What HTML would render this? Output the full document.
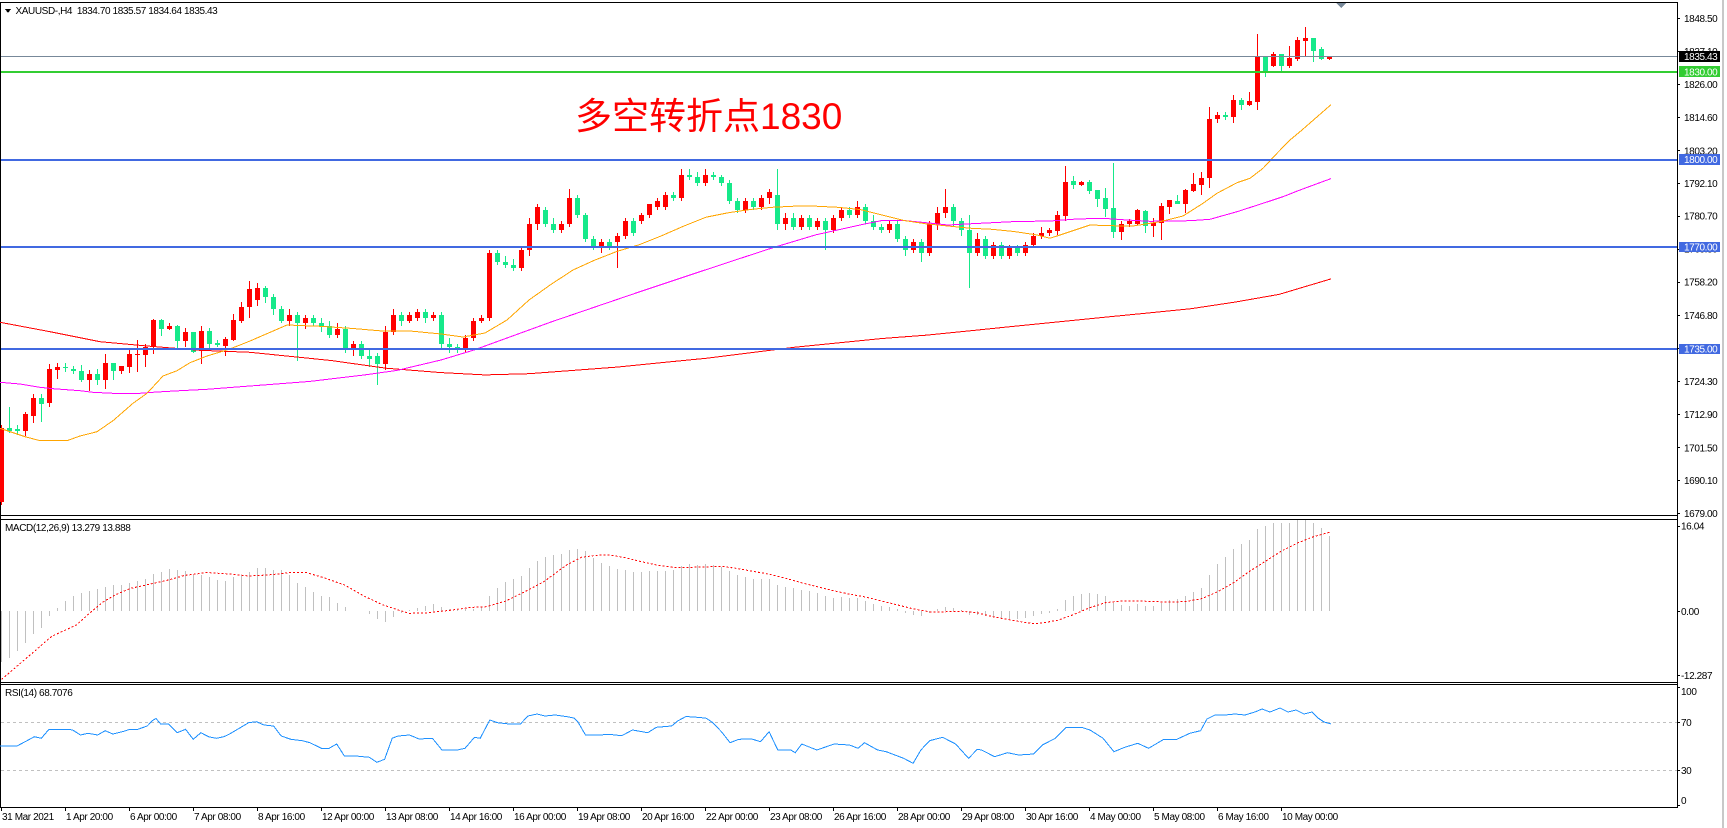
<!DOCTYPE html>
<html><head><meta charset="utf-8"><title>XAUUSD H4</title>
<style>
html,body{margin:0;padding:0;background:#fff}
body{width:1727px;height:828px;overflow:hidden;position:relative}
#s{position:absolute;left:0;top:0}
#s text{font-family:"Liberation Sans",Arial,sans-serif;font-size:10px;letter-spacing:-0.4px;fill:#000}
#s text.w{fill:#fff}
.cn{position:absolute;left:575px;top:98px;font-family:"Liberation Sans","Noto Sans CJK SC",sans-serif;font-size:37px;line-height:37px;color:#f00;white-space:nowrap}
</style></head><body>
<svg id="s" width="1727" height="828" viewBox="0 0 1727 828" shape-rendering="crispEdges">
<rect x="1722" y="0" width="2" height="828" fill="#c8c8c8"/>
<rect x="0" y="2" width="1678" height="1" fill="#000"/>
<rect x="0" y="515" width="1678" height="1" fill="#000"/>
<rect x="0" y="519" width="1678" height="1" fill="#000"/>
<rect x="0" y="682" width="1678" height="1" fill="#000"/>
<rect x="0" y="684" width="1678" height="1" fill="#000"/>
<rect x="0" y="807" width="1678" height="1" fill="#000"/>
<rect x="0" y="2" width="1" height="806" fill="#000"/>
<rect x="1677" y="2" width="1" height="806" fill="#000"/>
<line x1="1" y1="722.5" x2="1677" y2="722.5" stroke="#c0c0c0" stroke-dasharray="3,3"/>
<line x1="1" y1="770.5" x2="1677" y2="770.5" stroke="#c0c0c0" stroke-dasharray="3,3"/>
<g id="cd"></g>
<g id="ind"></g>
<rect x="1" y="56" width="1676" height="1" fill="#778899"/>
<rect x="1" y="71" width="1676" height="2" fill="#32cd32"/>
<rect x="1" y="159" width="1676" height="2" fill="#4169e1"/>
<rect x="1" y="246" width="1676" height="2" fill="#4169e1"/>
<rect x="1" y="348" width="1676" height="2" fill="#4169e1"/>
<polygon points="1336,3 1346,3 1341,8" fill="#778899"/>
<polygon points="5,9 11,9 8,13" fill="#000"/>
<text x="15.5" y="14">XAUUSD-,H4&#160; 1834.70 1835.57 1834.64 1835.43</text>
<text x="5" y="531">MACD(12,26,9) 13.279 13.888</text>
<text x="5" y="696">RSI(14) 68.7076</text>
<g fill="#000">
<rect x="1677" y="18" width="3" height="1"/><rect x="1677" y="51" width="3" height="1"/><rect x="1677" y="84" width="3" height="1"/><rect x="1677" y="117" width="3" height="1"/><rect x="1677" y="150" width="3" height="1"/><rect x="1677" y="183" width="3" height="1"/><rect x="1677" y="216" width="3" height="1"/><rect x="1677" y="249" width="3" height="1"/><rect x="1677" y="282" width="3" height="1"/><rect x="1677" y="315" width="3" height="1"/><rect x="1677" y="348" width="3" height="1"/><rect x="1677" y="381" width="3" height="1"/><rect x="1677" y="414" width="3" height="1"/><rect x="1677" y="447" width="3" height="1"/><rect x="1677" y="480" width="3" height="1"/><rect x="1677" y="513" width="3" height="1"/>
<rect x="1677" y="526" width="3" height="1"/><rect x="1677" y="611" width="3" height="1"/><rect x="1677" y="675" width="3" height="1"/>
<rect x="1677" y="687" width="3" height="1"/><rect x="1677" y="722" width="3" height="1"/><rect x="1677" y="770" width="3" height="1"/><rect x="1677" y="805" width="3" height="1"/>
</g>
<text x="1684" y="22">1848.50</text>
<text x="1684" y="55.2">1837.10</text>
<text x="1684" y="87.9">1826.00</text>
<text x="1684" y="120.9">1814.60</text>
<text x="1684" y="154.3">1803.20</text>
<text x="1684" y="186.9">1792.10</text>
<text x="1684" y="219.6">1780.70</text>
<text x="1684" y="252.6">1769.30</text>
<text x="1684" y="285.6">1758.20</text>
<text x="1684" y="318.9">1746.80</text>
<text x="1684" y="352">1735.40</text>
<text x="1684" y="384.9">1724.30</text>
<text x="1684" y="417.9">1712.90</text>
<text x="1684" y="451.3">1701.50</text>
<text x="1684" y="483.9">1690.10</text>
<text x="1684" y="516.9">1679.00</text>
<rect x="1679" y="51" width="41" height="11" fill="#000"/><text class="w" x="1684" y="60.1">1835.43</text>
<rect x="1679" y="66" width="41" height="11" fill="#32cd32"/><text class="w" x="1684" y="75.3">1830.00</text>
<rect x="1679" y="154" width="41" height="11" fill="#4169e1"/><text class="w" x="1684" y="163.1">1800.00</text>
<rect x="1679" y="242" width="41" height="10" fill="#4169e1"/><text class="w" x="1684" y="250.3">1770.00</text>
<rect x="1679" y="344" width="41" height="10" fill="#4169e1"/><text class="w" x="1684" y="352.4">1735.00</text>
<text x="1681" y="529.3">16.04</text>
<text x="1681" y="614.9">0.00</text>
<text x="1681" y="678.9">-12.287</text>
<text x="1681" y="694.9">100</text>
<text x="1681" y="725.9">70</text>
<text x="1681" y="773.9">30</text>
<text x="1681" y="803.9">0</text>
<g fill="#000">
<rect x="1" y="807" width="1" height="4"/><rect x="65" y="807" width="1" height="4"/><rect x="129" y="807" width="1" height="4"/><rect x="193" y="807" width="1" height="4"/><rect x="257" y="807" width="1" height="4"/><rect x="321" y="807" width="1" height="4"/><rect x="385" y="807" width="1" height="4"/><rect x="449" y="807" width="1" height="4"/><rect x="513" y="807" width="1" height="4"/><rect x="577" y="807" width="1" height="4"/><rect x="641" y="807" width="1" height="4"/><rect x="705" y="807" width="1" height="4"/><rect x="769" y="807" width="1" height="4"/><rect x="833" y="807" width="1" height="4"/><rect x="897" y="807" width="1" height="4"/><rect x="961" y="807" width="1" height="4"/><rect x="1025" y="807" width="1" height="4"/><rect x="1089" y="807" width="1" height="4"/><rect x="1153" y="807" width="1" height="4"/><rect x="1217" y="807" width="1" height="4"/><rect x="1281" y="807" width="1" height="4"/>
</g>
<text x="2" y="820">31 Mar 2021</text>
<text x="66" y="820">1 Apr 20:00</text>
<text x="130" y="820">6 Apr 00:00</text>
<text x="194" y="820">7 Apr 08:00</text>
<text x="258" y="820">8 Apr 16:00</text>
<text x="322" y="820">12 Apr 00:00</text>
<text x="386" y="820">13 Apr 08:00</text>
<text x="450" y="820">14 Apr 16:00</text>
<text x="514" y="820">16 Apr 00:00</text>
<text x="578" y="820">19 Apr 08:00</text>
<text x="642" y="820">20 Apr 16:00</text>
<text x="706" y="820">22 Apr 00:00</text>
<text x="770" y="820">23 Apr 08:00</text>
<text x="834" y="820">26 Apr 16:00</text>
<text x="898" y="820">28 Apr 00:00</text>
<text x="962" y="820">29 Apr 08:00</text>
<text x="1026" y="820">30 Apr 16:00</text>
<text x="1090" y="820">4 May 00:00</text>
<text x="1154" y="820">5 May 08:00</text>
<text x="1218" y="820">6 May 16:00</text>
<text x="1282" y="820">10 May 00:00</text>
</svg>
<div class="cn">多空转折点1830</div>
<script>
(function(){
var NS="http://www.w3.org/2000/svg";
var cd=document.getElementById('cd'), ind=document.getElementById('ind');
function mk(p,t,a){var e=document.createElementNS(NS,t);for(var k in a)e.setAttribute(k,a[k]);p.appendChild(e);return e;}
function Y(p){return 18.3+(1848.5-p)*2.9204;}
var A=[[502,425,505,428],[427.7,406.7,433.3,431],[428.7,425,435,430.7],[431,412.3,435.7,414],[415.7,394.3,422.7,397.7],[398,394,421.7,403.7],[403,364,406.7,369],[369.7,363.3,379,367],[367.3,363.3,371.7,368.3],[368.7,366,374,370.7],[371,365,381.7,380],[380,370,391,374],[374,369,385,380],[379.7,354,389,363],[363,363,380,371],[371,366,374,366],[366.7,349.3,372.7,354],[354.7,340,372,353.7],[354.7,344,366.7,346.7],[346.7,319,354,320],[320,319,335.7,328.7],[329,323,330,326],[326,325,348.3,340.7],[340.7,328.3,346.7,332],[332,332,353.3,351.7],[351,326,363.7,331],[331,328.3,350,343.7],[343,340,346.7,344.7],[346,336.7,356,339],[340,314,341,320],[321,302.3,322.7,307],[307.3,281,318.3,289]];
var B=[[1752,1758,1750,1756],[1756,1757,1751,1753],[1753,1754,1747,1749],[1749,1750,1744,1745],[1745,1749,1743,1747],[1747,1748,1731,1744],[1744,1747,1742,1746],[1746,1747,1743,1744],[1744,1746,1741,1743],[1743,1745,1739,1740],
[1740,1744,1739,1742],[1742,1743,1734,1735],[1735,1738,1733,1737],[1737,1738,1732,1733],[1733,1735,1729,1732],[1733,1734,1723,1730],[1730,1743,1728,1741],[1741,1749,1740,1747],[1747,1748,1743,1745],[1745,1748,1744,1747],
[1746,1749,1745,1748],[1748,1749,1744,1746],[1746,1748,1745,1747],[1747,1748,1735,1737],[1737,1739,1734,1736],[1736,1737,1734,1735],[1735,1740,1734,1739],[1739,1746,1738,1745],[1745,1747,1744,1746],[1746,1769,1745,1768],
[1768,1769,1764,1765],[1765,1767,1763,1764],[1764,1766,1762,1763],[1763,1770,1762,1769],[1769,1780,1767,1778],[1778,1785,1776,1784],[1783,1784,1777,1778],[1778,1780,1775,1776],[1776,1779,1775,1778],[1778,1790,1777,1787],
[1787,1788,1780,1781],[1781,1782,1772,1773],[1773,1774,1769,1770],[1770,1773,1768,1772],[1772,1773,1769,1770],[1772,1775,1763,1774],[1774,1780,1773,1779],[1779,1780,1774,1775],[1779,1782,1778,1781],[1781,1785,1780,1785],
[1784,1787,1783,1786],[1784,1789,1783,1788],[1788,1789,1786,1787],[1787,1797,1786,1795],[1795,1797,1793,1794],[1794,1796,1791,1792],[1792,1797,1791,1795],[1795,1796,1793,1794],[1794,1795,1791,1792],[1792,1793,1785,1786],
[1786,1787,1782,1783],[1783,1787,1782,1786],[1786,1787,1783,1784],[1784,1788,1783,1787],[1787,1790,1785,1789],[1788,1797,1776,1778],[1778,1782,1776,1780],[1780,1782,1776,1777],[1777,1781,1776,1780],[1780,1781,1776,1777],
[1777,1780,1776,1779],[1779,1780,1769,1776],[1776,1781,1775,1780],[1780,1784,1779,1783],[1783,1784,1780,1781],[1781,1786,1780,1784],[1784,1785,1778,1779],[1779,1781,1776,1777],[1777,1778,1775,1776],[1776,1779,1775,1778],
[1778,1779,1772,1773],[1773,1774,1767,1769],[1769,1773,1768,1772],[1772,1773,1765,1768],[1768,1779,1767,1778],[1778,1784,1776,1782],[1782,1790,1780,1784],[1784,1785,1777,1779],[1779,1780,1774,1776],[1776,1781,1756,1768],
[1768,1775,1767,1773],[1773,1774,1766,1767],[1767,1772,1766,1771],[1771,1772,1766,1767],[1767,1771,1766,1770],[1770,1771,1767,1768],[1768,1772,1767,1771],[1771,1775,1770,1774],[1774,1777,1773,1775]];
var C=[[233.3,228,236,230],[230.7,211,235,215],[216,165.7,220.7,181.7],[181,176,189,185],[185,181,185.7,182],[181.7,180,194,190.7],[190,190,207.3,199],[198.3,188.3,216.7,209],[208,163,238.3,231.7],[231.7,220.7,240,224],
[224.3,219,226.7,221.3],[224,209,225,210],[210.7,210,233.3,225.7],[225.7,218.3,236.7,222.7],[223.3,203.3,240,206],[206.7,200,214.3,200],[201,195,204,204],[204,189,213.3,190],[191,173,192,183.7],[185,172,195,177.7],
[177.7,107.3,188.3,119],[118.7,112.3,122.7,115],[115,112.3,120,117.3],[117.3,95,122.7,100],[100,97.7,110,105],[105,91.7,106,101],[101.7,34,110,57],[57.3,57,76.7,71.7],[65.7,51.7,66.7,54],[54,54,71,65.7],
[65.7,46,67.7,58.3],[59,37,61,40],[40.7,27,56.7,38.3],[38,38,61.7,50.7],[49.3,47,60,59],[59,56,60,56.5]];
var cs=A.slice();
B.forEach(function(r){cs.push([Y(r[0]),Y(r[1]),Y(r[2]),Y(r[3])]);});
C.forEach(function(r){cs.push(r);});
cs.forEach(function(r,k){
 var o=r[0],h=r[1],l=r[2],c=r[3];
 var col=c<=o?'#ff0000':'#16e98a';
 var x=8*k+1;
 var ht=Math.round(h), lb=Math.round(l);
 mk(cd,'rect',{x:x,y:ht,width:1,height:Math.max(1,lb-ht),fill:col});
 var t=Math.round(Math.min(o,c)), b=Math.round(Math.max(o,c));
 mk(cd,'rect',{x:x-2,y:t,width:5,height:Math.max(1,b-t),fill:col});
});
function pl(pts,col,extra){var s=pts.map(function(p){return p[0]+','+p[1];}).join(' ');var a={points:s,fill:'none',stroke:col,'stroke-width':1};if(extra)for(var k in extra)a[k]=extra[k];mk(ind,'polyline',a);}
var RED=[[0,322.3],[50,331.7],[100,341.7],[147,346],[200,350.3],[250,352.3],[331,360.5],[386,368.2],[441,372.6],[485,374.9],[529,373.7],[573,370.4],[617,367.1],[661,362.7],[706,358.3],[750,352.8],[794,347.3],[838,342.9],[882,338.5],[926,335.2],[970,330.8],[1014,326.3],[1058,321.9],[1102,317.5],[1147,313.1],[1191,308.7],[1235,302.1],[1279,294.4],[1331,278.9]];
var MAG=[[0,382.3],[20,384],[40,387.3],[53,388.7],[80,390.7],[93,392.3],[113,393.3],[140,393.3],[157,392],[180,390.7],[207,389.3],[233,387.3],[250,386],[309,381.5],[364,375],[397,370.4],[441,360],[474,350],[507,338],[551,322],[595,307],[639,292],[684,277],[728,262.4],[772,248],[816,234.8],[860,225],[882,220.5],[904,220.5],[926,222.7],[948,225],[970,223.8],[992,222.7],[1014,221.6],[1050,221],[1077,219],[1103,218.3],[1127,220],[1150,221.3],[1190,220.7],[1210,219.3],[1237,211.7],[1263,203.3],[1283,196.7],[1300,190],[1331,178.6]];
var ORG=[[0,428.3],[13,432.7],[25,436.7],[40,440.7],[67,440.7],[80,436],[97,431.7],[113,420.7],[133,403.3],[147,393.3],[163,376],[177,370.7],[190,362.7],[207,356],[227,350],[240,345],[250,341],[287,325],[320,326.3],[353,328.5],[380,330.8],[408,330.8],[441,334],[463,337],[485,333],[507,320],[529,300],[551,284.4],[573,270],[595,260],[617,251.4],[639,244.8],[661,236],[684,226],[706,217.2],[728,212.8],[750,209.5],[772,207.3],[794,206.2],[816,206.2],[838,207.3],[860,209.5],[882,215],[904,220.5],[926,223.8],[948,226],[970,228.2],[992,229.3],[1014,231.5],[1036,234.8],[1050,238.3],[1070,231.7],[1090,225],[1110,225.7],[1133,226],[1160,221.7],[1183,216],[1203,203.3],[1217,193.3],[1237,182.7],[1250,178.3],[1263,168.3],[1277,153.3],[1290,140],[1300,131.7],[1331,104.7]];
pl(RED,'#ff0000');pl(MAG,'#ff00ff');pl(ORG,'#ffa500');
var H=[-9.0,-8.3,-7.0,-5.6,-4.07,-2.9,-0.8,0.6,1.8,2.67,
3.26,3.6,3.85,4.3,4.6,4.6,5.0,5.3,5.66,6.6,
6.95,7.42,7.25,7.13,6.43,6.43,6.07,5.49,5.37,6.07,
6.37,6.95,7.55,7.66,7.25,7.25,6.37,5.0,4.3,3.43,
2.67,2.55,1.38,0.69,0.05,-0.1,-0.55,-1.37,-1.84,-0.96,
-0.38,0.2,0.6,0.9,1.2,0.73,0.33,0.2,0.33,0.4,
0.8,2.67,4.0,5.08,5.66,6.19,7.66,8.9,9.48,9.88,
10.06,10.77,10.95,10.65,9.3,8.5,8.0,7.4,7.2,6.9,
6.9,7.0,7.1,7.1,7.3,8.0,8.3,8.2,8.3,8.1,
7.8,7.0,6.3,6.0,5.7,5.6,5.6,4.6,4.3,4.0,
3.8,3.5,3.2,2.6,2.4,2.5,2.3,2.3,1.8,1.3,
0.9,0.7,0.3,-0.3,-0.6,-0.9,-0.4,0.3,0.8,0.6,
0.2,-0.6,-0.6,-0.9,-1.0,-1.2,-1.3,-1.3,-1.2,-0.9,
-0.5,-0.3,0.4,2.0,2.7,3.1,3.2,3.0,2.6,1.4,
1.1,1.0,1.3,1.0,0.9,1.4,1.9,2.2,2.7,3.4,
4.0,6.3,8.3,9.6,11.0,11.8,12.5,14.5,15.0,15.6,
15.6,15.6,16.0,16.04,15.6,14.6,13.28];
var Z=611.2,S=5.684;
H.forEach(function(v,k){if(Math.abs(v*S)<0.6)return;var y1=Z-v*S;var t=Math.round(Math.min(Z,y1)),b=Math.round(Math.max(Z,y1));mk(ind,'rect',{x:8*k+1,y:t,width:1,height:Math.max(1,b-t),fill:'#c0c0c0'});});
var SIG=[[0,-12.0],[2.5,-9],[6.3,-4.4],[9.4,-2.4],[11,-0.35],[12.75,1.67],[14.2,2.85],[16.1,4.0],[19,4.9],[20.9,5.5],[22.8,6.27],[25.7,6.8],[28.5,6.55],[30.9,6.2],[33.3,6.37],[36.2,6.8],[38.1,6.8],[40.5,5.8],[42.9,4.6],[45.3,2.67],[47.7,1.09],[49.6,0.2],[51,-0.38],[53.4,-0.27],[56.3,0.2],[58.7,0.67],[60.6,0.79],[63,1.77],[65.8,3.7],[67.8,5.2],[70.6,8.1],[72.5,9.5],[74.8,9.9],[76,9.9],[78,9.4],[80,8.7],[82,8.1],[84,7.7],[86,7.7],[88,7.8],[90,7.9],[92,7.5],[94,7.0],[96,6.5],[98,5.8],[100,5.0],[102,4.3],[104,3.6],[106,3.0],[108,2.5],[110,1.8],[112,1.1],[114,0.4],[116,-0.1],[118,-0.1],[120,0.0],[122,-0.3],[124,-1.0],[126,-1.5],[128,-2.0],[129,-2.2],[130,-2.1],[132,-1.6],[134,-0.6],[136,0.6],[138,1.5],[140,1.8],[142,1.8],[144,1.7],[146,1.6],[148,1.7],[150,2.2],[152,3.4],[154,5.0],[156,7.0],[158,8.8],[160,10.6],[162,12.0],[164,13.1],[166,13.888]];
pl(SIG.map(function(p){return [8*p[0]+1.5,Z-p[1]*S];}),'#ff0000',{'stroke-dasharray':'2,2'});
var RSI=[[0,746],[17,746],[27,740.7],[34.4,736.7],[41.3,738.3],[49,729.3],[68,729.3],[72.7,730],[80.4,735],[88,733.3],[97.6,735],[105.2,730.7],[112.9,734],[122.4,731.7],[130.1,729.3],[137.8,729.3],[147.3,726],[152.3,720.7],[156,718.5],[160.7,724],[168.4,724],[177.2,732.7],[185.6,729.3],[193.2,739.3],[200.9,732.7],[208.5,736.7],[216.2,738.3],[223.9,736.7],[229.6,734],[239.2,728.3],[248.7,722.7],[256.4,721.7],[264,725],[273.6,726],[281.2,736],[290.8,739.3],[302.3,740.7],[309.9,742.7],[321.4,748.3],[329.1,748.3],[336.7,744],[344.4,756],[355.9,756],[369.3,757.3],[376.9,762.3],[384.6,759.3],[392.2,738.3],[398,736],[409.5,735],[419,739],[432.4,738.3],[442,750],[457.3,750],[465,748.3],[474.5,737.3],[480.2,738.3],[489.8,720],[497.5,722.7],[509,724],[520.4,724],[528,716],[537,714],[545,716],[555,715],[566,716.5],[574,718],[577.8,721.7],[585.5,735],[600,735],[608.7,734.3],[621.7,735.7],[632.5,730],[647.7,732.7],[656.4,727.3],[671.6,726],[678.1,720.7],[686,716.5],[700,717.5],[706.3,718.3],[712.8,722.7],[721.4,731.7],[730.1,742.7],[738.8,739.3],[751.8,739],[760.5,741.7],[769.1,731.7],[777.8,750],[790.8,750],[795.2,752.7],[801.7,744],[816.8,750],[834.2,744],[849.4,745],[858,748.3],[864.5,742.7],[877.6,750],[886.2,751.7],[903.6,758.3],[913.1,763.3],[920.9,750],[929.6,740.7],[942.6,737.3],[955.6,744],[968.6,758.3],[977.3,749.3],[981.6,750],[994.6,756.7],[1007.6,752.7],[1018.5,755],[1033.7,754],[1042.3,745],[1055.4,738.3],[1066.2,727.3],[1081.4,727.3],[1090,730],[1103.1,738.3],[1113.9,751.7],[1124.7,747.3],[1137.8,743.3],[1148.6,748.3],[1163.8,739.3],[1176.8,739.3],[1189.8,733.3],[1200.6,730.7],[1207,719],[1215,715],[1225,715],[1235,714],[1245,715],[1255,712],[1262,709],[1270,712],[1280,708],[1288,712],[1296,710],[1304,714],[1312,712],[1318,718],[1324,722],[1331,723.9]];
pl(RSI,'#1e90ff');
})();
</script>
</body></html>
